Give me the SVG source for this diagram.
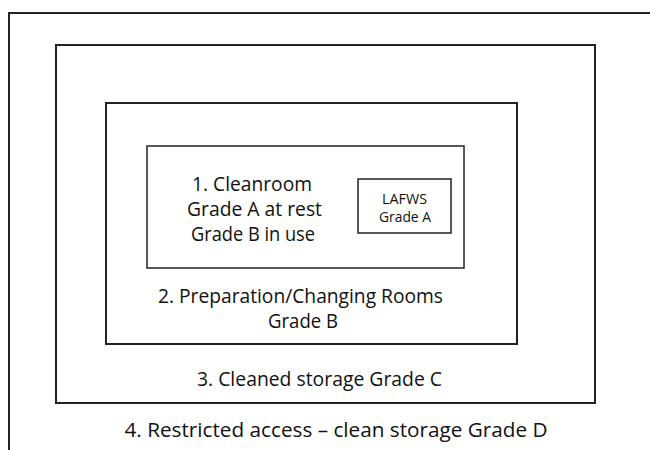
<svg xmlns="http://www.w3.org/2000/svg" width="650" height="450" viewBox="0 0 650 450">
  <style>
    .zone { fill: none; stroke: #222; stroke-width: 2; }
    .label { font-family: "Open Sans", "Liberation Sans", sans-serif; font-size: 20px; fill: #111; text-anchor: middle; }
    .small { font-size: 14px; }
  </style>
  <rect width="650" height="450" fill="#fff"/>

  <!-- 4. Restricted access zone (extends past the right and bottom edges) -->
  <g id="zone-restricted">
    <rect class="zone" x="9" y="13" width="660" height="460"/>
    <text class="label" x="336" y="437" textLength="423" lengthAdjust="spacingAndGlyphs">4. Restricted access – clean storage Grade D</text>
  </g>

  <!-- 3. Cleaned storage -->
  <g id="zone-storage">
    <rect class="zone" x="56" y="45" width="539" height="358"/>
    <text class="label" x="319.5" y="386" textLength="245" lengthAdjust="spacingAndGlyphs">3. Cleaned storage Grade C</text>
  </g>

  <!-- 2. Preparation / changing rooms -->
  <g id="zone-preparation">
    <rect class="zone" x="106" y="103" width="411" height="241"/>
    <text class="label" x="300.5" y="303" textLength="285" lengthAdjust="spacingAndGlyphs">2. Preparation/Changing Rooms</text>
    <text class="label" x="303" y="328" textLength="70" lengthAdjust="spacingAndGlyphs">Grade B</text>
  </g>

  <!-- 1. Cleanroom -->
  <g id="zone-cleanroom">
    <rect class="zone" x="147" y="146" width="317" height="122" style="stroke-width:1.5"/>
    <text class="label" x="252" y="191" textLength="120" lengthAdjust="spacingAndGlyphs">1. Cleanroom</text>
    <text class="label" x="254.5" y="216" textLength="135" lengthAdjust="spacingAndGlyphs">Grade A at rest</text>
    <text class="label" x="253" y="241" textLength="124" lengthAdjust="spacingAndGlyphs">Grade B in use</text>
  </g>

  <!-- Laminar air-flow workstation -->
  <g id="lafws">
    <rect class="zone" x="358" y="179" width="93" height="54" style="stroke-width:1.5"/>
    <text class="label small" x="404.5" y="204" textLength="45" lengthAdjust="spacingAndGlyphs">LAFWS</text>
    <text class="label small" x="405" y="222" textLength="52" lengthAdjust="spacingAndGlyphs">Grade A</text>
  </g>

  <g id="connectors"></g>
</svg>
